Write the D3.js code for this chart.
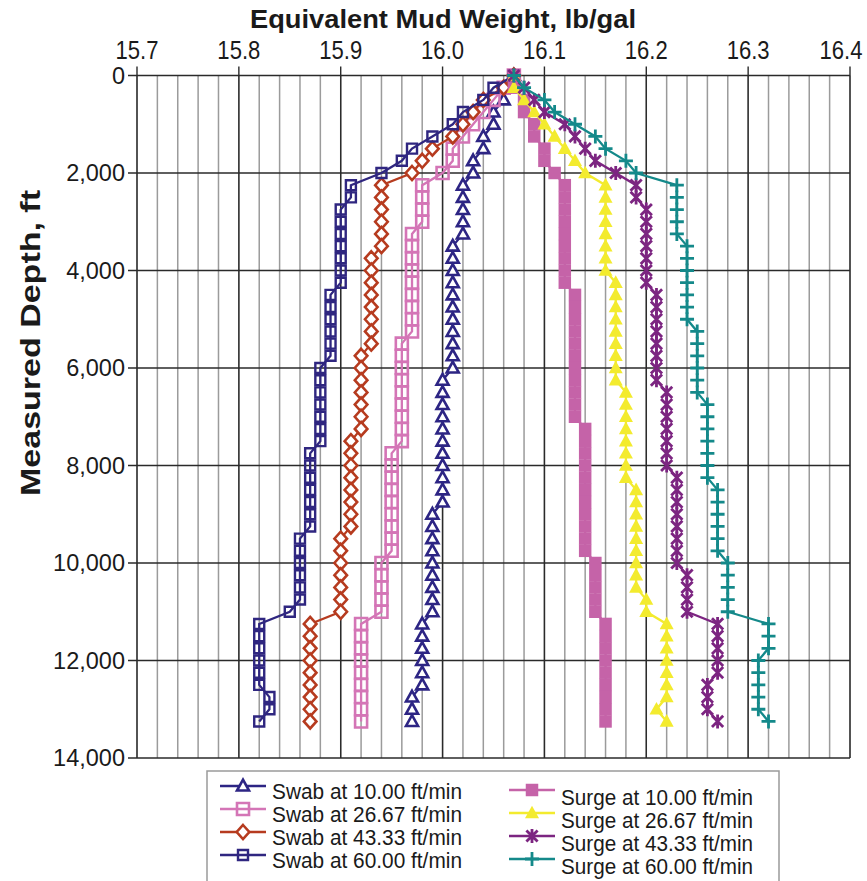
<!DOCTYPE html>
<html>
<head>
<meta charset="utf-8">
<script src="https://cdn.jsdelivr.net/npm/d3@7"></script>
<style>
  body { margin: 0; background: #fff; }
  svg { display: block; }
</style>
</head>
<body>
<div id="chart"></div>
<script>
// Measured depth of every computed point, ft
const depths = [
  0, 250, 500, 750, 1000, 1250, 1500, 1750,
  2000, 2250, 2500, 2750, 3000, 3250, 3500, 3750,
  4000, 4250, 4500, 4750, 5000, 5250, 5500, 5750,
  6000, 6250, 6500, 6750, 7000, 7250, 7500, 7750,
  8000, 8250, 8500, 8750, 9000, 9250, 9500, 9750,
  10000, 10250, 10500, 10750, 11000, 11250, 11500, 11750,
  12000, 12250, 12500, 12750, 13000, 13250
];

// Equivalent mud weight, lb/gal (one row per 2,000 ft)
const swab10 = [
  16.07, 16.06, 16.06, 16.05, 16.05, 16.04, 16.04, 16.03,
  16.03, 16.02, 16.02, 16.02, 16.02, 16.02, 16.01, 16.01,
  16.01, 16.01, 16.01, 16.01, 16.01, 16.01, 16.01, 16.01,
  16.01, 16.00, 16.00, 16.00, 16.00, 16.00, 16.00, 16.00,
  16.00, 16.00, 16.00, 16.00, 15.99, 15.99, 15.99, 15.99,
  15.99, 15.99, 15.99, 15.99, 15.99, 15.98, 15.98, 15.98,
  15.98, 15.98, 15.98, 15.97, 15.97, 15.97
];
const swab26 = [
  16.07, 16.06, 16.05, 16.04, 16.03, 16.02, 16.01, 16.01,
  16.00, 15.98, 15.98, 15.98, 15.98, 15.97, 15.97, 15.97,
  15.97, 15.97, 15.97, 15.97, 15.97, 15.97, 15.96, 15.96,
  15.96, 15.96, 15.96, 15.96, 15.96, 15.96, 15.96, 15.95,
  15.95, 15.95, 15.95, 15.95, 15.95, 15.95, 15.95, 15.95,
  15.94, 15.94, 15.94, 15.94, 15.94, 15.92, 15.92, 15.92,
  15.92, 15.92, 15.92, 15.92, 15.92, 15.92
];
const swab43 = [
  16.07, 16.06, 16.04, 16.03, 16.02, 16.01, 15.99, 15.98,
  15.97, 15.94, 15.94, 15.94, 15.94, 15.94, 15.94, 15.93,
  15.93, 15.93, 15.93, 15.93, 15.93, 15.93, 15.93, 15.92,
  15.92, 15.92, 15.92, 15.92, 15.92, 15.92, 15.91, 15.91,
  15.91, 15.91, 15.91, 15.91, 15.91, 15.91, 15.90, 15.90,
  15.90, 15.90, 15.90, 15.90, 15.90, 15.87, 15.87, 15.87,
  15.87, 15.87, 15.87, 15.87, 15.87, 15.87
];
const swab60 = [
  16.07, 16.05, 16.04, 16.02, 16.01, 15.99, 15.97, 15.96,
  15.94, 15.91, 15.91, 15.90, 15.90, 15.90, 15.90, 15.90,
  15.90, 15.90, 15.89, 15.89, 15.89, 15.89, 15.89, 15.89,
  15.88, 15.88, 15.88, 15.88, 15.88, 15.88, 15.88, 15.87,
  15.87, 15.87, 15.87, 15.87, 15.87, 15.87, 15.86, 15.86,
  15.86, 15.86, 15.86, 15.86, 15.85, 15.82, 15.82, 15.82,
  15.82, 15.82, 15.82, 15.83, 15.83, 15.82
];
const surge10 = [
  16.07, 16.07, 16.08, 16.08, 16.09, 16.09, 16.10, 16.10,
  16.11, 16.12, 16.12, 16.12, 16.12, 16.12, 16.12, 16.12,
  16.12, 16.12, 16.13, 16.13, 16.13, 16.13, 16.13, 16.13,
  16.13, 16.13, 16.13, 16.13, 16.13, 16.14, 16.14, 16.14,
  16.14, 16.14, 16.14, 16.14, 16.14, 16.14, 16.14, 16.14,
  16.15, 16.15, 16.15, 16.15, 16.15, 16.16, 16.16, 16.16,
  16.16, 16.16, 16.16, 16.16, 16.16, 16.16
];
const surge26 = [
  16.07, 16.07, 16.08, 16.09, 16.10, 16.11, 16.12, 16.13,
  16.14, 16.16, 16.16, 16.16, 16.16, 16.16, 16.16, 16.16,
  16.16, 16.17, 16.17, 16.17, 16.17, 16.17, 16.17, 16.17,
  16.17, 16.17, 16.18, 16.18, 16.18, 16.18, 16.18, 16.18,
  16.18, 16.18, 16.19, 16.19, 16.19, 16.19, 16.19, 16.19,
  16.19, 16.19, 16.19, 16.20, 16.20, 16.22, 16.22, 16.22,
  16.22, 16.22, 16.22, 16.22, 16.21, 16.22
];
const surge43 = [
  16.07, 16.08, 16.09, 16.10, 16.12, 16.13, 16.14, 16.15,
  16.17, 16.19, 16.19, 16.20, 16.20, 16.20, 16.20, 16.20,
  16.20, 16.20, 16.21, 16.21, 16.21, 16.21, 16.21, 16.21,
  16.21, 16.21, 16.22, 16.22, 16.22, 16.22, 16.22, 16.22,
  16.22, 16.23, 16.23, 16.23, 16.23, 16.23, 16.23, 16.23,
  16.23, 16.24, 16.24, 16.24, 16.24, 16.27, 16.27, 16.27,
  16.27, 16.27, 16.26, 16.26, 16.26, 16.27
];
const surge60 = [
  16.07, 16.08, 16.10, 16.11, 16.13, 16.15, 16.16, 16.18,
  16.19, 16.23, 16.23, 16.23, 16.23, 16.23, 16.24, 16.24,
  16.24, 16.24, 16.24, 16.24, 16.24, 16.25, 16.25, 16.25,
  16.25, 16.25, 16.25, 16.26, 16.26, 16.26, 16.26, 16.26,
  16.26, 16.26, 16.27, 16.27, 16.27, 16.27, 16.27, 16.27,
  16.28, 16.28, 16.28, 16.28, 16.28, 16.32, 16.32, 16.32,
  16.31, 16.31, 16.31, 16.31, 16.31, 16.32
];

const xTicks = [15.7, 15.8, 15.9, 16.0, 16.1, 16.2, 16.3, 16.4];
const xMinorTicks = d3.range(15.7, 16.401, 0.02);
const yTicks = [0, 2000, 4000, 6000, 8000, 10000, 12000, 14000];

const series = [
  { name: 'Swab at 10.00 ft/min', values: swab10, color: '#2d2584', marker: 'triangle', size: 12, fill: '#fff', sw: 2.6 },
  { name: 'Swab at 26.67 ft/min', values: swab26, color: '#d475b6', marker: 'square', size: 12, fill: 'none', sw: 2.6 },
  { name: 'Swab at 43.33 ft/min', values: swab43, color: '#b63b1f', marker: 'diamond', size: 14, fill: '#fff', sw: 2.6 },
  { name: 'Swab at 60.00 ft/min', values: swab60, color: '#2f2680', marker: 'square', size: 10, fill: 'none', sw: 2.4 },
  { name: 'Surge at 10.00 ft/min', values: surge10, color: '#c563a8', marker: 'square', size: 12.5, fill: '#c563a8', sw: 0 },
  { name: 'Surge at 26.67 ft/min', values: surge26, color: '#f3eb2e', marker: 'triangle', size: 14, fill: '#f3eb2e', sw: 0 },
  { name: 'Surge at 43.33 ft/min', values: surge43, color: '#7c2581', marker: 'asterisk', size: 14, fill: 'none', sw: 2.8 },
  { name: 'Surge at 60.00 ft/min', values: surge60, color: '#14898a', marker: 'plus', size: 14, fill: 'none', sw: 2.8 }
];

// Marker shapes centred on 0,0
function markerPath(type, s) {
  const h = s / 2;
  switch (type) {
    case 'triangle':
      return `M0,${-h * 1.05}L${h},${h * 0.75}L${-h},${h * 0.75}Z`;
    case 'square':
      return `M${-h},${-h}H${h}V${h}H${-h}Z`;
    case 'diamond':
      return `M0,${-h}L${h * 0.9},0L0,${h}L${-h * 0.9},0Z`;
    case 'asterisk':
      return `M${-h * 0.8},${-h * 0.8}L${h * 0.8},${h * 0.8}M${-h * 0.8},${h * 0.8}L${h * 0.8},${-h * 0.8}M0,${-h}V${h}`;
    case 'plus':
      return `M${-h},0H${h}M0,${-h}V${h}`;
  }
}

const W = 867, H = 881;
const margin = { top: 75.5, right: 17, bottom: 123, left: 137 };
const font = "'Liberation Sans', Arial, Helvetica, sans-serif";

const svg = d3.select('#chart').append('svg')
  .attr('width', W)
  .attr('height', H)
  .attr('viewBox', `0 0 ${W} ${H}`);

const x = d3.scaleLinear().domain([15.7, 16.4]).range([margin.left, W - margin.right]);
const y = d3.scaleLinear().domain([0, 14000]).range([margin.top, H - margin.bottom]);

// Grid: light minor verticals, dark majors
const grid = svg.append('g');
grid.selectAll('.minor')
  .data(xMinorTicks)
  .enter()
  .append('line')
  .attr('x1', (d) => x(d))
  .attr('x2', (d) => x(d))
  .attr('y1', y(0))
  .attr('y2', y(14000))
  .attr('stroke', '#9b9b9b')
  .attr('stroke-width', 1.5);

grid.selectAll('.major-x')
  .data(xTicks)
  .enter()
  .append('line')
  .attr('x1', (d) => x(d))
  .attr('x2', (d) => x(d))
  .attr('y1', y(0) - 9)
  .attr('y2', y(14000))
  .attr('stroke', '#2a2a2a')
  .attr('stroke-width', 1.4);

grid.selectAll('.major-y')
  .data(yTicks)
  .enter()
  .append('line')
  .attr('x1', x(15.7) - 9)
  .attr('x2', x(16.4))
  .attr('y1', (d) => y(d))
  .attr('y2', (d) => y(d))
  .attr('stroke', '#2a2a2a')
  .attr('stroke-width', 1.4);

// Top axis labels: tall, narrow figures (stretched vertically), kept inside the page
const labelHalf = 22;
svg.append('g')
  .selectAll('text')
  .data(xTicks)
  .enter()
  .append('text')
  .attr('transform', (d) => `translate(${Math.min(x(d), W - 4 - labelHalf)},59) scale(0.96,1.12)`)
  .attr('text-anchor', 'middle')
  .attr('font-family', font)
  .attr('font-size', 23)
  .attr('fill', '#1a1a1a')
  .text((d) => d3.format('.1f')(d));

const yAxis = d3.axisLeft(y).tickValues(yTicks).tickFormat(d3.format(',')).tickSize(0).tickPadding(12);
svg.append('g')
  .attr('transform', `translate(${x(15.7)},0)`)
  .call(yAxis)
  .call((g) => g.select('.domain').remove())
  .selectAll('text')
  .attr('font-family', font)
  .attr('font-size', 23.5)
  .attr('fill', '#1a1a1a');

// Titles
svg.append('text')
  .attr('x', 443)
  .attr('y', 28)
  .attr('text-anchor', 'middle')
  .attr('font-family', font)
  .attr('font-weight', 'bold')
  .attr('font-size', 26)
  .attr('textLength', 386)
  .attr('lengthAdjust', 'spacingAndGlyphs')
  .attr('fill', '#1a1a1a')
  .text('Equivalent Mud Weight, lb/gal');

svg.append('text')
  .attr('transform', 'translate(40,343) rotate(-90)')
  .attr('text-anchor', 'middle')
  .attr('font-family', font)
  .attr('font-weight', 'bold')
  .attr('font-size', 27)
  .attr('textLength', 306)
  .attr('lengthAdjust', 'spacingAndGlyphs')
  .attr('fill', '#1a1a1a')
  .text('Measured Depth, ft');

// Series
const line = d3.line()
  .x((d) => x(d[1]))
  .y((d) => y(d[0]));

series.forEach((s) => {
  const pts = depths.map((dep, i) => [dep, s.values[i]]);
  const g = svg.append('g');
  g.append('path')
    .attr('d', line(pts))
    .attr('fill', 'none')
    .attr('stroke', s.color)
    .attr('stroke-width', 2.3);
  g.selectAll('path.m')
    .data(pts)
    .enter()
    .append('path')
    .attr('class', 'm')
    .attr('transform', (d) => `translate(${x(d[1])},${y(d[0])})`)
    .attr('d', markerPath(s.marker, s.size))
    .attr('fill', s.fill)
    .attr('stroke', s.sw ? s.color : 'none')
    .attr('stroke-width', s.sw);
});

// Legend
const legend = svg.append('g');
legend.append('rect')
  .attr('x', 207)
  .attr('y', 771)
  .attr('width', 572)
  .attr('height', 130)
  .attr('fill', '#fff')
  .attr('stroke', '#9a9a9a')
  .attr('stroke-width', 1.5);

series.forEach((s, i) => {
  const col = i < 4 ? 0 : 1;
  const row = i % 4;
  const lx = col === 0 ? 220 : 509;
  const ly = (col === 0 ? 786 : 790) + row * 23;
  const ty = (col === 0 ? 791 : 797) + row * 23;
  const item = legend.append('g');
  item.append('line')
    .attr('x1', lx)
    .attr('x2', lx + 46)
    .attr('y1', ly)
    .attr('y2', ly)
    .attr('stroke', s.color)
    .attr('stroke-width', 2.4);
  item.append('path')
    .attr('transform', `translate(${lx + 23},${ly})`)
    .attr('d', markerPath(s.marker, s.size))
    .attr('fill', s.fill)
    .attr('stroke', s.sw ? s.color : 'none')
    .attr('stroke-width', s.sw);
  item.append('text')
    .attr('x', lx + 52)
    .attr('y', ty)
    .attr('dy', '0.35em')
    .attr('font-family', font)
    .attr('font-size', 22.5)
    .attr('textLength', col === 0 ? 190 : 192)
    .attr('lengthAdjust', 'spacingAndGlyphs')
    .attr('fill', '#1a1a1a')
    .text(s.name);
});
</script>
</body>
</html>
